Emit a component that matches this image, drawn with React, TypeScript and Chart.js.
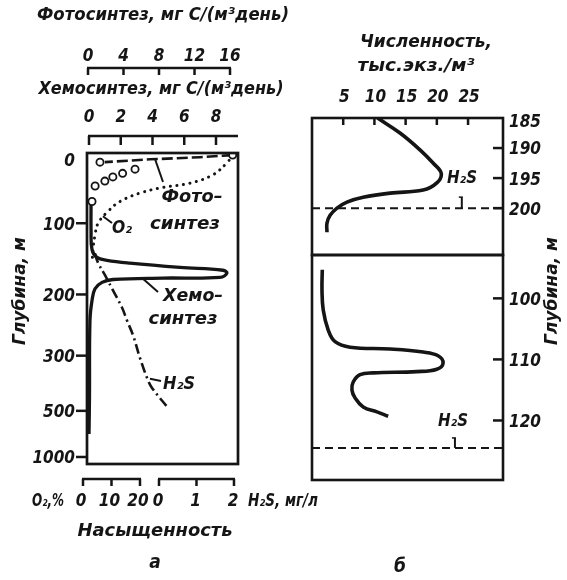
import React, { useEffect, useRef } from "react";
import { Chart, registerables, LinearScale } from "chart.js";

Chart.register(...registerables);

// ---------------- panel a : tick values ----------------
const photoTicks = [0, 4, 8, 12, 16];
const chemoTicks = [0, 2, 4, 6, 8];
const o2Ticks = [0, 10, 20];
const h2sTicks = [0, 1, 2];
const depthTicksA = [0, 100, 200, 300, 500, 1000];

// photosynthesis, mg C/(m3 day) : dashed line and measured circles
const photoLineValue = [16.3, 12.6, 7.0, 1.9];
const photoLineDepth = [3, 6, 9, 13];
const photoPointValue = [16.3, 1.35, 5.3, 3.9, 2.8, 1.9, 0.8, 0.45];
const photoPointDepth = [3, 13, 23, 29, 34, 40, 47, 69];

// oxygen, % saturation (dotted)
const o2Value = [52.6, 50.5, 45.6, 37.5, 28.1, 20.0, 13.0, 8.8, 5.3, 4.2, 3.5, 3.2];
const o2Depth = [3, 14, 31, 43, 49, 57, 69, 83, 100, 117, 137, 155];

// chemosynthesis, mg C/(m3 day) (thick solid)
const chemoValue = [0.13, 0.13, 0.19, 0.5, 1.13, 2.58, 5.73, 8.44, 8.69, 8.25, 4.66, 1.51, 0.82, 0.38, 0.19, 0.06, 0.03, 0];
const chemoDepth = [67, 110, 137, 148, 152, 156, 162, 166, 170, 176, 177, 179, 183, 192, 210, 243, 450, 750];

// hydrogen sulphide, mg/l (dash-dot)
const h2sValue = [-1.71, -1.63, -1.44, -1.23, -0.99, -0.85, -0.69, -0.51, -0.32, -0.19, 0.24];
const h2sDepth = [142, 155, 173, 194, 221, 243, 267, 307, 380, 416, 489];

// ---------------- panel b ----------------
const countTicks = [5, 10, 15, 20, 25];
const depthTicksTop = [185, 190, 195, 200];
const depthTicksBottom = [100, 110, 120];
const countTopValue = [10.5, 14.1, 17.3, 19.4, 20.7, 20.0, 17.8, 12.5, 8.2, 5.6, 4.0, 2.9, 2.4, 2.4];
const countTopDepth = [185.0, 187.5, 190.3, 192.5, 194.2, 195.8, 197.0, 197.5, 198.2, 199.0, 200.0, 201.2, 202.5, 204.0];
const countBottomValue = [1.65, 1.6, 1.8, 2.6, 3.7, 6.1, 12.5, 17.8, 20.2, 21.0, 20.0, 16.8, 9.8, 7.7, 6.6, 6.4, 6.9, 8.2, 10.4, 12.2];
const countBottomDepth = [95.3, 98.6, 101.9, 105.2, 107.1, 108.0, 108.3, 108.8, 109.4, 110.6, 111.6, 112.0, 112.2, 112.5, 113.7, 115.0, 116.3, 117.8, 118.6, 119.3];
const h2sBoundaryTop = 200;
const h2sBoundaryBottom = 124.5;

// ---------------- broken depth axis of panel a ----------------
const depthKnots = [0, 100, 200, 300, 500, 1000];
const depthKnotPos = [0, 70, 141, 202, 257, 303];

function depthToU(d: number): number {
  const K = depthKnots, P = depthKnotPos, n = K.length - 1;
  if (d <= K[0]) return P[0] + (d - K[0]) * (P[1] - P[0]) / (K[1] - K[0]);
  for (let i = 1; i <= n; i++) {
    if (d <= K[i]) return P[i - 1] + (d - K[i - 1]) * (P[i] - P[i - 1]) / (K[i] - K[i - 1]);
  }
  return P[n] + (d - K[n]) * (P[n] - P[n - 1]) / (K[n] - K[n - 1]);
}

class BrokenDepthScale extends LinearScale {
  static id = "brokenDepth";
  static defaults = LinearScale.defaults;
  getPixelForValue(value: number): number {
    const a = depthToU(this.min as number);
    const b = depthToU(this.max as number);
    return this.getPixelForDecimal((depthToU(value) - a) / (b - a));
  }
}
Chart.register(BrokenDepthScale as any);

// ---------------- drawing helpers ----------------
const INK = "#151515";
const FONT = '"DejaVu Sans Condensed", "DejaVu Sans", sans-serif';

type TOpts = { size?: number; w?: number; align?: CanvasTextAlign; rot?: number };
function label(ctx: CanvasRenderingContext2D, s: string, x: number, y: number, o: TOpts = {}) {
  const size = o.size ?? 17;
  ctx.save();
  ctx.font = `italic bold ${size}px ${FONT}`;
  ctx.fillStyle = INK;
  ctx.textBaseline = "middle";
  ctx.textAlign = o.align ?? "center";
  ctx.translate(x, y);
  if (o.rot) ctx.rotate(o.rot);
  if (o.w) {
    const m = ctx.measureText(s).width;
    if (m > 0) ctx.scale(o.w / m, 1);
  }
  ctx.fillText(s, 0, 0);
  ctx.restore();
}

function seg(ctx: CanvasRenderingContext2D, x1: number, y1: number, x2: number, y2: number, w = 2.5) {
  ctx.save();
  ctx.strokeStyle = INK;
  ctx.lineWidth = w;
  ctx.beginPath();
  ctx.moveTo(x1, y1);
  ctx.lineTo(x2, y2);
  ctx.stroke();
  ctx.restore();
}

function bracket(ctx: CanvasRenderingContext2D, scale: any, ticks: number[], y: number, len: number, xEnd?: number) {
  const xs = ticks.map((v) => scale.getPixelForValue(v));
  ctx.save();
  ctx.strokeStyle = INK;
  ctx.lineWidth = 2.5;
  ctx.beginPath();
  ctx.moveTo(xs[0] - 1, y);
  ctx.lineTo(xEnd ?? xs[xs.length - 1] + 1, y);
  xs.forEach((x) => {
    ctx.moveTo(x, y);
    ctx.lineTo(x, y + len);
  });
  ctx.stroke();
  ctx.restore();
}

const pts = (xs: number[], ys: number[]) => xs.map((x, i) => ({ x, y: ys[i] }));

const lineDs = (dataX: number[], dataY: number[], xAxisID: string, extra: any = {}) => ({
  type: "line",
  data: pts(dataX, dataY),
  xAxisID,
  yAxisID: "y",
  borderColor: INK,
  borderWidth: 3,
  pointRadius: 0,
  tension: 0.4,
  fill: false,
  ...extra,
});

const hidden = { display: false };

// ---------------- panel a plugin ----------------
const panelAPlugin = {
  id: "panelA",
  afterDraw(chart: any) {
    const { ctx, chartArea: a, scales: s } = chart;
    ctx.save();
    ctx.strokeStyle = INK;
    ctx.lineWidth = 2.7;
    ctx.strokeRect(a.left, a.top, a.right - a.left, a.bottom - a.top);
    ctx.restore();

    // top axes
    label(ctx, "Фотосинтез, мг С/(м³день)", 163, 16, { w: 252 });
    photoTicks.forEach((v) => label(ctx, String(v), s.xPhoto.getPixelForValue(v), 57));
    bracket(ctx, s.xPhoto, photoTicks, 68, 7);
    label(ctx, "Хемосинтез, мг С/(м³день)", 161, 90, { w: 245 });
    chemoTicks.forEach((v) => label(ctx, String(v), s.xChemo.getPixelForValue(v), 118));
    bracket(ctx, s.xChemo, chemoTicks, 136, 9, a.right);

    // depth axis
    depthTicksA.forEach((d) => {
      const y = s.y.getPixelForValue(d);
      if (d > 0) seg(ctx, a.left - 11, y, a.left, y, 2.5);
      label(ctx, String(d), a.left - 12, Math.max(y + 2, a.top + 9), { align: "right" });
    });
    label(ctx, "Глубина, м", 21, 291, { rot: -Math.PI / 2, w: 108 });

    // bottom axes
    bracket(ctx, s.xO2, o2Ticks, 479, 7);
    bracket(ctx, s.xH2S, h2sTicks, 479, 7);
    label(ctx, "O₂,%", 48, 502, { w: 32 });
    o2Ticks.forEach((v) => label(ctx, String(v), s.xO2.getPixelForValue(v) - 2, 502));
    h2sTicks.forEach((v) => label(ctx, String(v), s.xH2S.getPixelForValue(v) - 1, 502));
    label(ctx, "H₂S, мг/л", 283, 502, { w: 70 });
    label(ctx, "Насыщенность", 155, 532, { w: 155 });
    label(ctx, "а", 155, 563, { size: 19 });

    // curve labels with leaders (anchored on the curves through the scales)
    const px = (sc: string, v: number) => s[sc].getPixelForValue(v);
    const py = (d: number) => s.y.getPixelForValue(d);
    seg(ctx, px("xPhoto", 7.55), py(8.6), 163, 182, 2);
    label(ctx, "Фото–", 192, 198, { w: 61 });
    label(ctx, "синтез", 185, 225, { w: 70 });
    seg(ctx, px("xO2", 7.0), py(90), 112, 223, 2);
    label(ctx, "O₂", 122, 229, { w: 20 });
    seg(ctx, px("xChemo", 3.4), py(178), 158, 292, 2);
    label(ctx, "Хемо–", 193, 297, { w: 60 });
    label(ctx, "синтез", 183, 320, { w: 69 });
    seg(ctx, px("xH2S", -0.24), py(384), 161, 381, 2);
    label(ctx, "H₂S", 179, 385, { w: 32 });
  },
};

function configA(): any {
  return {
    type: "line",
    data: {
      datasets: [
        {
          type: "line",
          data: pts(photoPointValue, photoPointDepth),
          xAxisID: "xPhoto",
          yAxisID: "y",
          showLine: false,
          pointRadius: 3.6,
          pointBackgroundColor: "#ffffff",
          pointBorderColor: INK,
          pointBorderWidth: 1.8,
        },
        lineDs(photoLineValue, photoLineDepth, "xPhoto", { borderDash: [11, 4], borderWidth: 2.6, tension: 0 }),
        lineDs(o2Value, o2Depth, "xO2", { borderDash: [0.1, 6.5], borderCapStyle: "round", borderWidth: 3 }),
        lineDs(chemoValue, chemoDepth, "xChemo", { borderWidth: 3.3 }),
        lineDs(h2sValue, h2sDepth, "xH2S", { borderDash: [10, 4, 2, 4], borderWidth: 2.6 }),
      ],
    },
    options: {
      responsive: false,
      animation: false,
      layout: { padding: { left: 87, top: 153, right: 567 - 238, bottom: 580 - 464 } },
      plugins: { legend: hidden, tooltip: { enabled: false } },
      events: [],
      scales: {
        y: { type: "brokenDepth", reverse: true, min: 0, max: 1076, display: false },
        xPhoto: { type: "linear", axis: "x", position: "top", min: -0.113, max: 16.9, display: false },
        xChemo: { type: "linear", axis: "x", position: "top", min: -0.126, max: 9.386, display: false },
        xO2: { type: "linear", axis: "x", position: "bottom", min: 1.404, max: 54.39, display: false },
        xH2S: { type: "linear", axis: "x", position: "bottom", min: -1.92, max: 2.107, display: false },
      },
    },
    plugins: [panelAPlugin],
  };
}

// ---------------- panel b ----------------
function panelBPlugin(top: boolean) {
  return {
    id: top ? "panelBTop" : "panelBBottom",
    afterDraw(chart: any) {
      const { ctx, chartArea: a, scales: s } = chart;
      ctx.save();
      ctx.strokeStyle = INK;
      ctx.lineWidth = 2.6;
      ctx.strokeRect(a.left, a.top, a.right - a.left, a.bottom - a.top);
      ctx.restore();
      const ticks = top ? depthTicksTop : depthTicksBottom;
      ticks.forEach((d) => {
        const y = s.y.getPixelForValue(d);
        if (y > a.top + 2) seg(ctx, a.right - 10, y, a.right, y, 2.5);
        label(ctx, String(d), 509, Math.max(y + 2, a.top + 5), { align: "left" });
      });
      if (top) {
        countTicks.forEach((v) => {
          const x = s.x.getPixelForValue(v);
          seg(ctx, x, a.top, x, a.top + 7, 2.5);
          label(ctx, String(v), x + 1, 98);
        });
        label(ctx, "Численность,", 426, 43, { w: 132 });
        label(ctx, "тыс.экз./м³", 416, 67, { w: 117 });
        label(ctx, "H₂S", 462, 179, { w: 30 });
        const mx = s.x.getPixelForValue(24.0);
        const my = s.y.getPixelForValue(h2sBoundaryTop);
        seg(ctx, mx, my, mx, my - 11, 2);
        seg(ctx, mx - 3, my - 11, mx + 1, my - 11, 1.5);
        label(ctx, "Глубина, м", 553, 291, { rot: -Math.PI / 2, w: 108 });
      } else {
        label(ctx, "H₂S", 453, 422, { w: 30 });
        const mx = s.x.getPixelForValue(22.9);
        const my = s.y.getPixelForValue(h2sBoundaryBottom);
        seg(ctx, mx, my, mx, my - 10, 2);
        seg(ctx, mx - 3, my - 10, mx + 1, my - 10, 1.5);
        label(ctx, "б", 400, 567, { size: 19 });
      }
    },
  };
}

function configB(top: boolean): any {
  const vals = top ? countTopValue : countBottomValue;
  const deps = top ? countTopDepth : countBottomDepth;
  const boundary = top ? h2sBoundaryTop : h2sBoundaryBottom;
  const areaTop = top ? 118 : 255;
  const areaBottom = top ? 255 : 480;
  return {
    type: "line",
    data: {
      datasets: [
        {
          type: "line",
          data: pts(vals, deps),
          xAxisID: "x",
          yAxisID: "y",
          borderColor: INK,
          borderWidth: 3.6,
          pointRadius: 0,
          tension: 0.4,
        },
        {
          type: "line",
          data: [
            { x: 0, y: boundary },
            { x: 30.6, y: boundary },
          ],
          xAxisID: "x",
          yAxisID: "y",
          borderColor: INK,
          borderWidth: 2,
          borderDash: [8, 5],
          pointRadius: 0,
        },
      ],
    },
    options: {
      responsive: false,
      animation: false,
      layout: { padding: { left: 312, top: areaTop, right: 567 - 503, bottom: 580 - areaBottom } },
      plugins: { legend: hidden, tooltip: { enabled: false } },
      events: [],
      scales: {
        x: { type: "linear", min: 0, max: 30.6, display: false },
        y: top
          ? { type: "linear", reverse: true, min: 185, max: 207.8, display: false }
          : { type: "linear", reverse: true, min: 92.9, max: 129.75, display: false },
      },
    },
    plugins: [panelBPlugin(top)],
  };
}

export default function App() {
  const refA = useRef<HTMLCanvasElement>(null);
  const refB = useRef<HTMLCanvasElement>(null);
  const refC = useRef<HTMLCanvasElement>(null);

  useEffect(() => {
    const charts: Chart[] = [];
    if (refA.current) charts.push(new Chart(refA.current, configA()));
    if (refB.current) charts.push(new Chart(refB.current, configB(true)));
    if (refC.current) charts.push(new Chart(refC.current, configB(false)));
    return () => charts.forEach((c) => c.destroy());
  }, []);

  const cs: React.CSSProperties = { position: "absolute", left: 0, top: 0 };
  return (
    <div style={{ position: "absolute", left: 0, top: 0, width: 567, height: 580, background: "#ffffff" }}>
      <canvas ref={refA} width={567} height={580} style={cs} />
      <canvas ref={refB} width={567} height={580} style={cs} />
      <canvas ref={refC} width={567} height={580} style={cs} />
    </div>
  );
}
